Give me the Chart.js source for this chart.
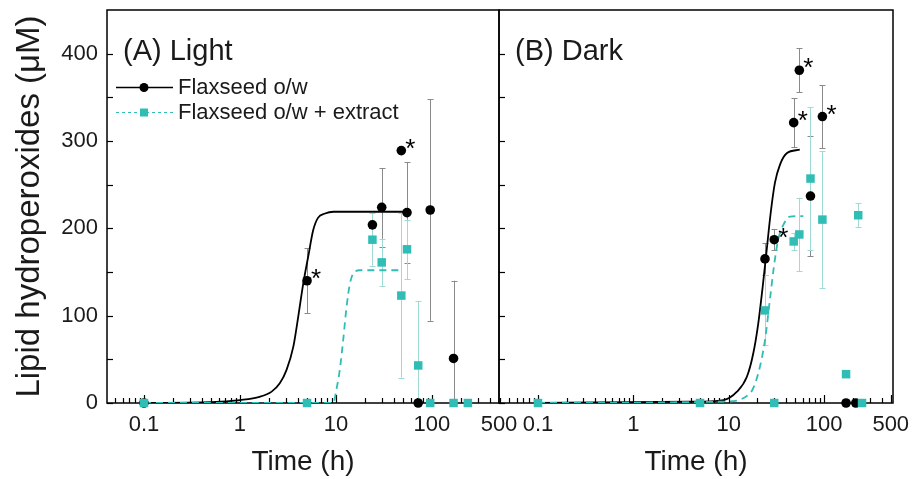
<!DOCTYPE html>
<html><head><meta charset="utf-8">
<script src="https://cdn.jsdelivr.net/npm/chart.js@4/dist/chart.umd.min.js"></script>
<style>
html,body{margin:0;padding:0;background:#fff;}
#wrap{position:relative;width:923px;height:479px;background:#fff;}
canvas{position:absolute;left:0;top:0;}
</style></head><body>
<div id="wrap"><canvas id="cA" width="923" height="479"></canvas><canvas id="cB" width="923" height="479"></canvas></div>
<script>
// ---------- data ----------
const yTickLabels = [0, 100, 200, 300, 400];
const yMinorTicks = [50, 150, 250, 350];
const xTickLabels = [0.1, 1, 10, 100, 500];
const seriesNames = ['Flaxseed o/w', 'Flaxseed o/w + extract'];
const panelTitles = ['(A) Light', '(B) Dark'];

// Panel A (Light) – measured points
const timeA_oil = [0.1, 5, 24, 30, 48, 55, 72, 96, 168];
const valA_oil  = [0, 140, 204, 224, 289, 218, 0, 221, 51];
const errA_oil  = [null, 37, null, 45, null, 58, null, 127, 89];
const sigA_oil  = [0, 1, 0, 0, 1, 0, 0, 0, 0];
const timeA_ext = [0.1, 5, 24, 30, 48, 55, 72, 96, 168, 237];
const valA_ext  = [0, 0, 187, 161, 123, 176, 43, 0, 0, 0];
const errA_ext  = [null, null, 30, 27, 94, 34, 74, null, null, null];
// Panel A fitted curves
const fitTimeA_oil = [0.1, 0.5, 1, 1.6, 2.14, 2.6, 3.06, 3.6, 4.05, 4.57, 5.15, 5.8, 6.5, 7.7, 9.4, 56];
const fitValA_oil  = [0, 1, 3.4, 7, 13, 22.5, 38, 64.5, 99, 137, 168, 198, 212, 217, 219, 219];
const fitTimeA_ext = [0.1, 9.4, 10.1, 10.97, 11.9, 12.9, 14, 15.2, 17.8, 50];
const fitValA_ext  = [0, 0, 15, 38, 72, 110, 137, 148.5, 152, 152];

// Panel B (Dark) – measured points
const timeB_oil = [24, 30, 48, 55, 72, 96, 170, 215];
const valB_oil  = [165, 187, 321, 381, 237, 328, 0, 0];
const errB_oil  = [18, 12, 28, 25, 69, 36, null, null];
const sigB_oil  = [0, 1, 1, 1, 0, 1, 0, 0];
const timeB_ext = [0.1, 5, 24, 30, 48, 55, 72, 96, 170, 228, 250];
const valB_ext  = [0, 0, 106, 0, 185, 193, 257, 210, 33, 215, 0];
const errB_ext  = [null, null, 40, null, 10, 42, 82, 78, null, 14, null];
// Panel B fitted curves
const fitTimeB_oil = [0.1, 3.9, 8.8, 12.2, 15.5, 18.1, 20.4, 22.7, 25, 27.5, 30.5, 34.5, 40.6, 55.6];
const fitValB_oil  = [0, 1.5, 3.4, 13, 30, 57, 91, 133, 175, 217, 252, 273, 286, 290];
const fitTimeB_ext = [0.1, 8.8, 16.7, 20.4, 24, 27, 29.8, 33, 37.4, 44, 60.5];
const fitValB_ext  = [0, 1.5, 11, 34, 72, 118, 156.5, 187, 204, 213.5, 214];

// ---------- styling ----------
const FONT = '"Liberation Sans", Arial, sans-serif';
const TXT = '#1a1a1a';
const BLACK = '#000000';
const TEAL = '#2fbdb5';
const ERR_BLACK = '#8a8a8a';
const ERR_TEAL = '#9edbd7';

const zip = (xs, ys) => xs.map((x, i) => ({x: x, y: ys[i]}));

function logTicks(min, max) {
  const out = [];
  for (let e = -2; e <= 3; e++) {
    for (let m = 1; m <= 9; m++) {
      const v = +(m * Math.pow(10, e)).toPrecision(6);
      if (v >= min * 0.999 && v <= max * 1.001) out.push(v);
    }
  }
  return out;
}
const isMajor = v => xTickLabels.some(t => Math.abs(t - v) / t < 1e-6);

const decor = {
  id: 'decor',
  beforeDatasetsDraw(chart) {
    const {ctx, chartArea: a, scales: {x, y}} = chart;
    ctx.save();
    // frame
    ctx.strokeStyle = BLACK; ctx.lineWidth = 1.5;
    ctx.strokeRect(a.left, a.top, a.right - a.left, a.bottom - a.top);
    ctx.lineWidth = 1.2;
    // y ticks at left edge (inward)
    [...yTickLabels, ...yMinorTicks].forEach(v => {
      const py = Math.round(y.getPixelForValue(v)) + 0.5;
      ctx.beginPath(); ctx.moveTo(a.left, py); ctx.lineTo(a.left + 6, py); ctx.stroke();
    });
    // x ticks at bottom (inward)
    x.ticks.forEach(t => {
      const px = Math.round(x.getPixelForValue(t.value)) + 0.5;
      if (px < a.left + 1 || px > a.right - 1) return;
      const len = isMajor(t.value) ? 8 : 5;
      ctx.beginPath(); ctx.moveTo(px, a.bottom); ctx.lineTo(px, a.bottom - len); ctx.stroke();
    });
    // error bars
    ctx.beginPath(); ctx.rect(a.left, a.top, a.right - a.left, a.bottom - a.top); ctx.clip();
    chart.data.datasets.forEach(ds => {
      if (!ds.errors) return;
      ctx.strokeStyle = ds.errColor; ctx.lineWidth = 1;
      ds.data.forEach((p, i) => {
        const e = ds.errors[i];
        if (e == null) return;
        const px = Math.round(x.getPixelForValue(p.x)) + 0.5;
        const yt = y.getPixelForValue(p.y + e), yb = y.getPixelForValue(p.y - e);
        ctx.beginPath();
        ctx.moveTo(px, yt); ctx.lineTo(px, yb);
        ctx.moveTo(px - 3, Math.round(yt) + 0.5); ctx.lineTo(px + 3, Math.round(yt) + 0.5);
        ctx.moveTo(px - 3, Math.round(yb) + 0.5); ctx.lineTo(px + 3, Math.round(yb) + 0.5);
        ctx.stroke();
      });
    });
    ctx.restore();
  },
  afterDraw(chart) {
    const o = chart.options.plugins.decor;
    const {ctx, chartArea: a, scales: {x, y}} = chart;
    ctx.save();
    // asterisks
    ctx.fillStyle = BLACK; ctx.font = '26px ' + FONT; ctx.textAlign = 'left'; ctx.textBaseline = 'alphabetic';
    chart.data.datasets.forEach(ds => {
      if (!ds.sig) return;
      ds.data.forEach((p, i) => {
        if (!ds.sig[i]) return;
        ctx.fillText('*', x.getPixelForValue(p.x) + 4, y.getPixelForValue(p.y) + 6);
      });
    });
    // panel title
    ctx.fillStyle = TXT; ctx.font = '29px ' + FONT;
    ctx.fillText(o.title, a.left + 16, 60);
    // legend
    if (o.legend) {
      const rows = [[BLACK, [], 1.5, 'circle', seriesNames[0], 87], [TEAL, [3, 3], 1, 'rect', seriesNames[1], 112]];
      rows.forEach(r => {
        const [col, dash, lw, shape, label, cy] = r;
        ctx.strokeStyle = col; ctx.lineWidth = lw; ctx.setLineDash(dash);
        ctx.beginPath(); ctx.moveTo(a.left + 9, cy + 0.5); ctx.lineTo(a.left + 66, cy + 0.5); ctx.stroke();
        ctx.setLineDash([]);
        ctx.fillStyle = col;
        if (shape === 'circle') { ctx.beginPath(); ctx.arc(a.left + 37, cy + 0.5, 4.5, 0, Math.PI * 2); ctx.fill(); }
        else ctx.fillRect(a.left + 33, cy - 3.5, 8, 8);
        ctx.fillStyle = TXT; ctx.font = '22px ' + FONT; ctx.textBaseline = 'middle';
        ctx.fillText(label, a.left + 71, cy + 1);
        ctx.textBaseline = 'alphabetic';
      });
    }
    ctx.restore();
  }
};

function makePanel(id, p) {
  const xt = logTicks(p.xMin, p.xMax);
  return new Chart(document.getElementById(id), {
    type: 'scatter',
    data: {
      datasets: [
        {data: zip(p.fitT1, p.fitV1), showLine: true, borderColor: BLACK, borderWidth: 1.8, pointRadius: 0,
         cubicInterpolationMode: 'monotone', order: 4},
        {data: zip(p.fitT2, p.fitV2), showLine: true, borderColor: TEAL, borderWidth: 1.8, borderDash: [7, 5], pointRadius: 0,
         cubicInterpolationMode: 'monotone', order: 3},
        {data: zip(p.t1, p.v1), errors: p.e1, sig: p.s1, errColor: ERR_BLACK, showLine: false, pointStyle: 'circle',
         pointRadius: 4.8, backgroundColor: BLACK, borderColor: BLACK, borderWidth: 0, clip: false, order: 2},
        {data: zip(p.t2, p.v2), errors: p.e2, errColor: ERR_TEAL, showLine: false, pointStyle: 'rect',
         pointRadius: 6, backgroundColor: TEAL, borderColor: TEAL, borderWidth: 0, clip: false, order: 1}
      ]
    },
    plugins: [decor],
    options: {
      responsive: false, animation: false, devicePixelRatio: 1,
      layout: {padding: {left: p.padL, right: p.padR, top: 10, bottom: 0}},
      plugins: {legend: {display: false}, tooltip: {enabled: false}, decor: {title: p.title, legend: p.legend}},
      scales: {
        x: {
          type: 'logarithmic', min: p.xMin, max: p.xMax,
          afterBuildTicks: s => { s.ticks = xt.map(v => ({value: v})); },
          afterFit: s => { s.height = 76; s.paddingLeft = 0; s.paddingRight = 0; },
          grid: {display: false, drawTicks: false}, border: {display: false},
          ticks: {autoSkip: false, maxRotation: 0, padding: 9, color: TXT, font: {family: FONT, size: 22},
                  callback: v => isMajor(v) ? String(xTickLabels.find(t => Math.abs(t - v) / t < 1e-6)) : ''},
          title: {display: true, text: 'Time (h)', color: TXT, font: {family: FONT, size: 28}, padding: {top: 0, bottom: 0}}
        },
        y: {
          type: 'linear', min: 0, max: 450, display: p.showY,
          afterBuildTicks: s => { s.ticks = yTickLabels.map(v => ({value: v})); },
          afterFit: s => { s.width = p.showY ? 107 : 0; s.paddingTop = 0; s.paddingBottom = 0; },
          grid: {display: false, drawTicks: false}, border: {display: false},
          ticks: {padding: 9, color: TXT, font: {family: FONT, size: 22}},
          title: {display: true, text: 'Lipid hydroperoxides (\u03bcM)', color: TXT, font: {family: FONT, size: 33}, padding: {top: 10, bottom: 0}}
        }
      }
    }
  });
}

makePanel('cA', {
  xMin: 0.0412, xMax: 500, padL: 0, padR: 424, showY: true, title: panelTitles[0], legend: true,
  t1: timeA_oil, v1: valA_oil, e1: errA_oil, s1: sigA_oil,
  t2: timeA_ext, v2: valA_ext, e2: errA_ext,
  fitT1: fitTimeA_oil, fitV1: fitValA_oil, fitT2: fitTimeA_ext, fitV2: fitValA_ext
});
makePanel('cB', {
  xMin: 0.039, xMax: 528, padL: 499, padR: 30, showY: false, title: panelTitles[1], legend: false,
  t1: timeB_oil, v1: valB_oil, e1: errB_oil, s1: sigB_oil,
  t2: timeB_ext, v2: valB_ext, e2: errB_ext,
  fitT1: fitTimeB_oil, fitV1: fitValB_oil, fitT2: fitTimeB_ext, fitV2: fitValB_ext
});
</script>
</body></html>
